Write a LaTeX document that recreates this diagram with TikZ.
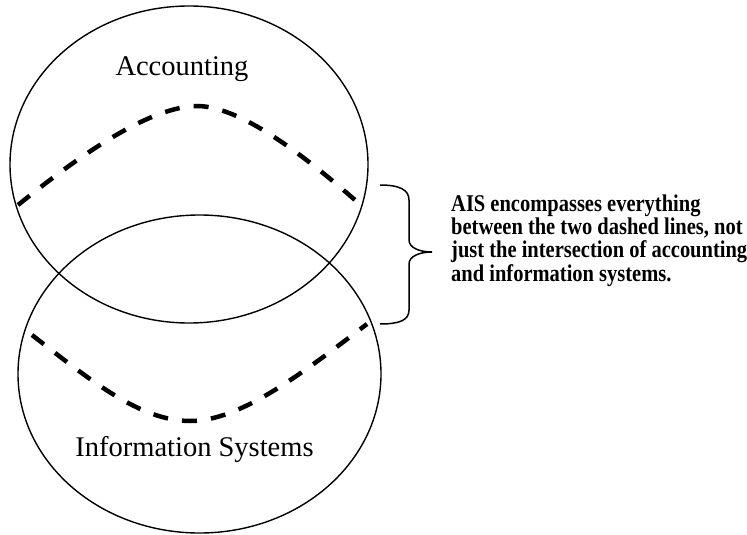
\documentclass[tikz,border=0pt]{standalone}
\usepackage{fontspec}
\setmainfont{Liberation Serif}
\newfontface\notefont{Liberation Serif Bold}[FakeStretch=0.854]
\usetikzlibrary{shapes.geometric}
\begin{document}
\begin{tikzpicture}[x=1pt,y=-1pt,
  venn/.style={ellipse, draw=black, line width=1.4pt, inner sep=0pt},
  aisdash/.style={line width=4.5pt, dash pattern=on 15pt off 14.15pt},
  bracestyle/.style={line width=1.5pt},
  biglabel/.style={font=\fontsize{28.5}{32}\selectfont, inner sep=0pt},
  note/.style={font=\notefont\fontsize{24}{23.3}\selectfont, align=left, inner sep=0pt}]
\useasboundingbox (0,0) rectangle (747,535);
\node[venn, minimum width=358pt, minimum height=317pt] (acc) at (189,164.5) {};
\node[venn, minimum width=363pt, minimum height=318pt] (is) at (199.5,374) {};
\node[biglabel, anchor=base] (acctext) at (182,76) {Accounting};
\node[biglabel, anchor=base] (istext) at (194.5,456.5) {Information Systems};
\coordinate (t1) at (18,205);
\coordinate (t2) at (198,106);
\coordinate (t3) at (355,200);
\coordinate (b1) at (32,335);
\coordinate (b2) at (190,421);
\coordinate (b3) at (367,324);
\draw[aisdash] (t1) .. controls (80,155) and (150,106) .. (t2)
  .. controls (240,107) and (300,152) .. (t3);
\draw[aisdash] (b1) .. controls (90,380) and (140,421) .. (b2)
  .. controls (240,421) and (300,375) .. (b3);
\coordinate (br1) at (380,185);
\coordinate (brtip) at (432,252);
\coordinate (br2) at (380,324);
\draw[bracestyle] (br1) .. controls (400,185) and (409,190) .. (409,200) -- (409,240)
  .. controls (409,248) and (420,252) .. (brtip)
  .. controls (420,252) and (409,256) .. (409,264) -- (409,310)
  .. controls (409,320) and (400,324) .. (br2);
\node[note, anchor=base west] (ais) at (451,281) {AIS encompasses everything\\between the two dashed lines, not\\just the intersection of accounting\\and information systems.};
\end{tikzpicture}
\end{document}
